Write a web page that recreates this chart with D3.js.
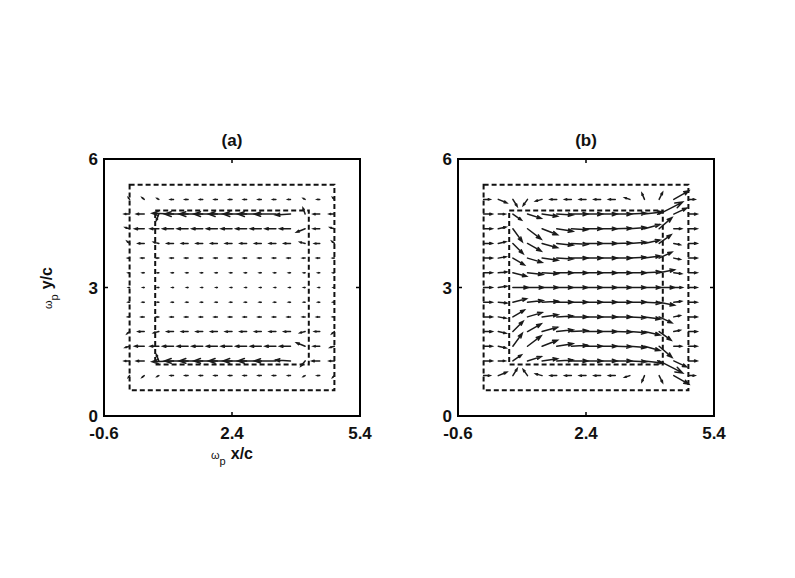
<!DOCTYPE html>
<html>
<head>
<meta charset="utf-8">
<script src="https://cdn.jsdelivr.net/npm/d3@7"></script>
<style>
  body { margin: 0; background: #fff; }
  text { font-family: "Liberation Sans", Arial, sans-serif; fill: #111; }
</style>
</head>
<body>
<div id="chart"></div>
<script>
// grid of the vector field (data units)
const gridX = [0, 0.343, 0.686, 1.029, 1.371, 1.714, 2.057, 2.4, 2.743, 3.086, 3.429, 3.771, 4.114, 4.457, 4.8];
const gridY = [5.057, 4.714, 4.371, 4.029, 3.686, 3.343, 3.0, 2.657, 2.314, 1.971, 1.629, 1.286, 0.943];

const xTicks = [-0.6, 2.4, 5.4];
const yTicks = [0, 3, 6];
const panelTitles = ["(a)", "(b)"];

// dashed boxes [x0, x1, y0, y1]
const outerBox = [0, 4.8, 0.6, 5.4];
const innerBox = [0.6, 4.2, 1.2, 4.8];

// panel (a) vectors, rows from top to bottom
const aU = [
  [-0.03,-0.05,-0.04,-0.07,-0.07,-0.07,-0.07,-0.07,-0.07,-0.07,-0.07,-0.06,-0.04,-0.06,-0.04],
  [-0.12,-0.18,-0.06,-0.5,-0.55,-0.55,-0.55,-0.55,-0.55,-0.55,-0.5,-0.35,-0.05,-0.15,-0.12],
  [-0.1,-0.22,-0.2,-0.25,-0.25,-0.25,-0.25,-0.25,-0.25,-0.25,-0.25,-0.25,-0.2,-0.15,-0.1],
  [-0.06,-0.14,-0.12,-0.15,-0.15,-0.15,-0.15,-0.15,-0.15,-0.15,-0.15,-0.15,-0.12,-0.12,-0.06],
  [-0.04,-0.07,-0.06,-0.07,-0.07,-0.07,-0.07,-0.07,-0.07,-0.07,-0.07,-0.07,-0.06,-0.07,-0.04],
  [-0.03,-0.04,-0.03,-0.04,-0.04,-0.04,-0.04,-0.04,-0.04,-0.04,-0.04,-0.04,-0.03,-0.04,-0.03],
  [-0.02,-0.03,-0.03,-0.03,-0.03,-0.03,-0.03,-0.03,-0.03,-0.03,-0.03,-0.03,-0.03,-0.03,-0.02],
  [-0.03,-0.04,-0.03,-0.04,-0.04,-0.04,-0.04,-0.04,-0.04,-0.04,-0.04,-0.04,-0.03,-0.04,-0.03],
  [-0.04,-0.07,-0.06,-0.07,-0.07,-0.07,-0.07,-0.07,-0.07,-0.07,-0.07,-0.07,-0.06,-0.07,-0.04],
  [-0.06,-0.14,-0.12,-0.15,-0.15,-0.15,-0.15,-0.15,-0.15,-0.15,-0.15,-0.15,-0.12,-0.12,-0.06],
  [-0.1,-0.22,-0.2,-0.25,-0.25,-0.25,-0.25,-0.25,-0.25,-0.25,-0.25,-0.25,-0.2,-0.15,-0.1],
  [-0.12,-0.18,-0.06,-0.5,-0.55,-0.55,-0.55,-0.55,-0.55,-0.55,-0.5,-0.35,-0.1,-0.18,-0.12],
  [-0.03,-0.05,-0.04,-0.07,-0.07,-0.07,-0.07,-0.07,-0.07,-0.07,-0.07,-0.06,-0.04,-0.06,-0.04]
];
const aV = [
  [0.04,0.04,0.02,0,0,0,0,0,0,0,0,0,0.02,0,0.04],
  [0,0,-0.15,0.02,0,0,0,0,0,0,0,-0.02,0.14,0,0],
  [0.03,0,0,0,0,0,0,0,0,0,0,0,-0.08,0,0.03],
  [0.05,0,0.03,0,0,0,0,0,0,0,0,0,0.03,0,0.05],
  [0,0,0,0,0,0,0,0,0,0,0,0,0,0,0],
  [0,0,0,0,0,0,0,0,0,0,0,0,0,0,0],
  [0,0,0,0,0,0,0,0,0,0,0,0,0,0,0],
  [0,0,0,0,0,0,0,0,0,0,0,0,0,0,0],
  [0,0,0,0,0,0,0,0,0,0,0,0,0,0,0],
  [-0.05,0,-0.03,0,0,0,0,0,0,0,0,0,-0.03,0,-0.05],
  [-0.03,0,0,0,0,0,0,0,0,0,0,0,0.08,0,-0.03],
  [0,0,0.15,-0.02,0,0,0,0,0,0,0,0.02,-0.12,0,0],
  [-0.04,-0.04,-0.02,0,0,0,0,0,0,0,0,0,-0.02,0,-0.04]
];

// panel (b) vectors, rows from top to bottom
const bU = [
  [0.15,0.2,0.1,-0.1,-0.15,-0.15,-0.15,-0.15,-0.15,-0.15,-0.12,-0.06,0.08,0.35,0.15],
  [0.2,0.16,0.2,0.32,0.36,0.38,0.38,0.38,0.38,0.38,0.38,0.42,0.55,0.3,0.2],
  [0.2,0.18,0.22,0.32,0.36,0.38,0.38,0.38,0.38,0.38,0.38,0.36,0.3,0.18,0.2],
  [0.2,0.18,0.24,0.32,0.36,0.38,0.38,0.38,0.38,0.38,0.38,0.36,0.28,0.15,0.2],
  [0.2,0.18,0.27,0.34,0.37,0.38,0.38,0.38,0.38,0.38,0.38,0.37,0.3,0.15,0.2],
  [0.2,0.2,0.32,0.36,0.38,0.38,0.38,0.38,0.38,0.38,0.38,0.38,0.36,0.18,0.2],
  [0.2,0.2,0.36,0.38,0.38,0.38,0.38,0.38,0.38,0.38,0.38,0.38,0.36,0.2,0.2],
  [0.2,0.2,0.32,0.36,0.38,0.38,0.38,0.38,0.38,0.38,0.38,0.38,0.36,0.18,0.2],
  [0.2,0.18,0.27,0.34,0.37,0.38,0.38,0.38,0.38,0.38,0.38,0.37,0.3,0.15,0.2],
  [0.2,0.18,0.24,0.32,0.36,0.38,0.38,0.38,0.38,0.38,0.38,0.36,0.28,0.15,0.2],
  [0.2,0.18,0.22,0.32,0.36,0.38,0.38,0.38,0.38,0.38,0.38,0.36,0.3,0.18,0.2],
  [0.2,0.16,0.2,0.32,0.36,0.38,0.38,0.38,0.38,0.38,0.38,0.42,0.55,0.3,0.2],
  [0.15,0.2,0.1,-0.1,-0.15,-0.15,-0.15,-0.15,-0.15,-0.15,-0.12,-0.06,0.08,0.35,0.15]
];
const bV = [
  [0,-0.08,-0.16,-0.14,-0.04,0,0,0,0,0,0.04,0.14,0.16,0.2,0],
  [0,0,-0.14,-0.1,-0.05,-0.02,0,0,0,0,0.02,0.05,0.28,0.14,0],
  [0,0.04,-0.3,-0.24,-0.14,-0.06,-0.02,0,0,0.01,0.03,0.1,0.26,0,0],
  [0,0.04,-0.24,-0.18,-0.1,-0.04,-0.02,0,0,0.01,0.03,0.08,0.2,-0.03,0],
  [0,0.03,-0.16,-0.1,-0.05,-0.02,0,0,0,0,0.02,0.05,0.14,-0.03,0],
  [0,0.02,-0.08,-0.04,-0.02,0,0,0,0,0,0,0.02,0.07,-0.02,0],
  [0,0.03,0,0,0,0,0,0,0,0,0,0,0,0,0],
  [0,-0.02,0.08,0.04,0.02,0,0,0,0,0,0,-0.02,-0.07,0.02,0],
  [0,-0.03,0.16,0.1,0.05,0.02,0,0,0,0,-0.02,-0.05,-0.14,0.03,0],
  [0,-0.04,0.24,0.18,0.1,0.04,0.02,0,0,-0.01,-0.03,-0.08,-0.2,0.03,0],
  [0,-0.04,0.3,0.24,0.14,0.06,0.02,0,0,-0.01,-0.03,-0.1,-0.26,0,0],
  [0,0,0.14,0.1,0.05,0.02,0,0,0,0,-0.02,-0.05,-0.28,-0.14,0],
  [0,0.08,0.16,0.14,0.04,0,0,0,0,0,-0.04,-0.14,-0.16,-0.2,0]
];

const width = 795;
const height = 578;
const pw = 256, ph = 257;
const panelLeft = [104, 458];
const panelTop = 159;

const svg = d3.select("#chart")
  .append("svg")
  .attr("width", width)
  .attr("height", height);

const xScale = d3.scaleLinear().domain([-0.6, 5.4]).range([0, pw]);
const yScale = d3.scaleLinear().domain([0, 6]).range([ph, 0]);

// quiver arrow: shaft + two short barbs
function arrowPath(x0, y0, x1, y1) {
  const dx = x1 - x0, dy = y1 - y0;
  const hx = x1 - 0.28 * dx, hy = y1 - 0.28 * dy;
  const wx = -dy * 0.1, wy = dx * 0.1;
  return `M${x0},${y0}L${x1},${y1}M${hx + wx},${hy + wy}L${x1},${y1}L${hx - wx},${hy - wy}`;
}

function drawPanel(i, U, V) {
  const g = svg.append("g")
    .attr("transform", `translate(${panelLeft[i]},${panelTop})`);

  // dashed boxes
  [outerBox, innerBox].forEach(function(b) {
    g.append("rect")
      .attr("x", xScale(b[0]))
      .attr("y", yScale(b[3]))
      .attr("width", xScale(b[1]) - xScale(b[0]))
      .attr("height", yScale(b[2]) - yScale(b[3]))
      .attr("fill", "none")
      .attr("stroke", "#111")
      .attr("stroke-width", 2)
      .attr("stroke-dasharray", "5,3");
  });

  // vectors
  const vecs = [];
  gridY.forEach(function(y, r) {
    gridX.forEach(function(x, c) {
      vecs.push({x: x, y: y, u: U[r][c], v: V[r][c]});
    });
  });
  g.selectAll("path.vec")
    .data(vecs)
    .enter()
    .append("path")
    .attr("class", "vec")
    .attr("d", function(d) {
      return arrowPath(xScale(d.x), yScale(d.y), xScale(d.x + d.u), yScale(d.y + d.v));
    })
    .attr("fill", "none")
    .attr("stroke", "#1a1a1a")
    .attr("stroke-width", 1.5)
    .attr("stroke-linecap", "round");

  // frame
  g.append("rect")
    .attr("width", pw).attr("height", ph)
    .attr("fill", "none")
    .attr("stroke", "#000")
    .attr("stroke-width", 2);

  // inner ticks on all four sides
  xTicks.forEach(function(t) {
    g.append("line").attr("x1", xScale(t)).attr("x2", xScale(t)).attr("y1", ph).attr("y2", ph - 4)
      .attr("stroke", "#000").attr("stroke-width", 1.5);
    g.append("line").attr("x1", xScale(t)).attr("x2", xScale(t)).attr("y1", 0).attr("y2", 4)
      .attr("stroke", "#000").attr("stroke-width", 1.5);
    g.append("text")
      .attr("x", xScale(t)).attr("y", ph + 23)
      .attr("text-anchor", "middle")
      .style("font-size", "17px").style("font-weight", "bold")
      .text(t);
  });
  yTicks.forEach(function(t) {
    g.append("line").attr("x1", 0).attr("x2", 4).attr("y1", yScale(t)).attr("y2", yScale(t))
      .attr("stroke", "#000").attr("stroke-width", 1.5);
    g.append("line").attr("x1", pw).attr("x2", pw - 4).attr("y1", yScale(t)).attr("y2", yScale(t))
      .attr("stroke", "#000").attr("stroke-width", 1.5);
    g.append("text")
      .attr("x", -6).attr("y", yScale(t) + 6)
      .attr("text-anchor", "end")
      .style("font-size", "17px").style("font-weight", "bold")
      .text(t);
  });

  // title
  g.append("text")
    .attr("x", pw / 2).attr("y", -13)
    .attr("text-anchor", "middle")
    .style("font-size", "17px").style("font-weight", "bold")
    .text(panelTitles[i]);

  return g;
}

drawPanel(0, aU, aV);
drawPanel(1, bU, bV);

// axis labels for panel (a)
function omegaLabel(sel, rest) {
  const t = sel.append("text").attr("text-anchor", "middle");
  t.append("tspan").style("font-size", "11px").text("ω");
  t.append("tspan").style("font-size", "11px").attr("dy", 6).text("p");
  t.append("tspan").style("font-size", "16px").style("font-weight", "bold").attr("dx", 5).attr("dy", -6).text(rest);
  return t;
}

const xLab = svg.append("g").attr("transform", `translate(${panelLeft[0] + pw / 2},459)`);
omegaLabel(xLab, "x/c");

const yLab = svg.append("g").attr("transform", "translate(52,288) rotate(-90)");
omegaLabel(yLab, "y/c");
</script>
</body>
</html>
